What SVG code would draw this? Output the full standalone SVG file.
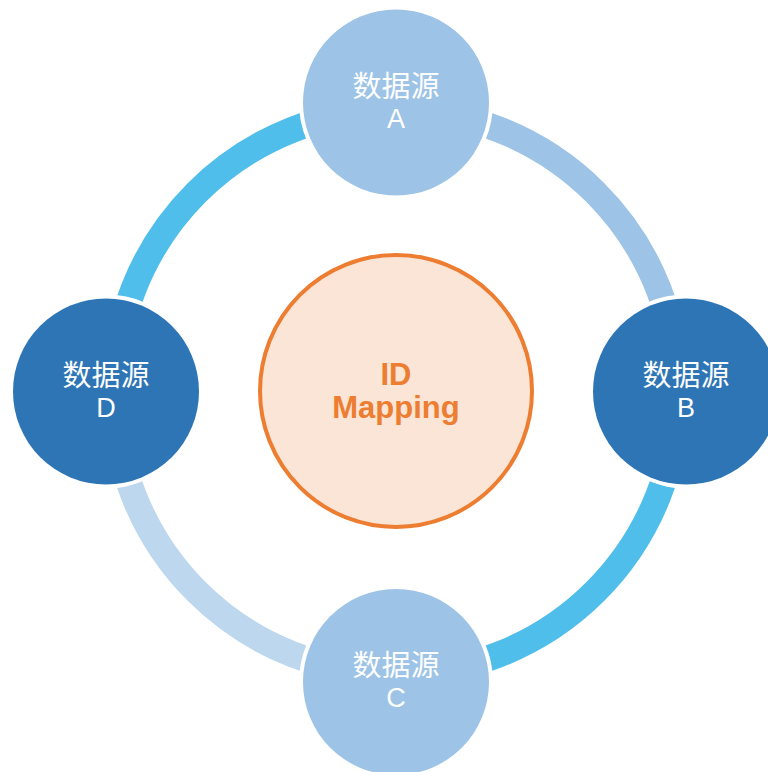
<svg xmlns="http://www.w3.org/2000/svg" width="768" height="772" viewBox="0 0 768 772">
<style>
.arc{fill:none;stroke-width:26}
.halo{fill:#FFFFFF}
.light{fill:#9DC3E6}
.dark{fill:#2E75B6}
.lbl{font-family:"Noto Sans CJK SC","Liberation Sans",sans-serif;font-size:29px;fill:#FFFFFF;text-anchor:middle}
.lat{font-family:"Liberation Sans",Arial,sans-serif;font-size:27px;fill:#FFFFFF;text-anchor:middle}
.core{font-family:"Liberation Sans",Arial,sans-serif;font-size:31px;font-weight:bold;fill:#ED7D31;text-anchor:middle}
</style>
<rect width="768" height="772" fill="#FFFFFF"/>
<g id="connectors">
<path class="arc" stroke="#9DC3E6" d="M396,110 A282,282 0 0 1 678,392"/>
<path class="arc" stroke="#4FBEEA" d="M678,392 A282,282 0 0 1 396,674"/>
<path class="arc" stroke="#BDD7EE" d="M396,674 A282,282 0 0 1 114,392"/>
<path class="arc" stroke="#4FBEEA" d="M114,392 A282,282 0 0 1 396,110"/>
</g>
<g id="center">
<circle cx="396" cy="391" r="136" fill="#FBE5D6" stroke="#ED7D31" stroke-width="4"/>
<text class="core" x="396" y="385">ID</text>
<text class="core" x="396" y="418">Mapping</text>
</g>
<g id="nodeA">
<circle class="halo" cx="396" cy="102.5" r="97"/>
<circle class="light" cx="396" cy="102.5" r="93"/>
<text class="lbl" x="396" y="97">数据源</text>
<text class="lat" x="396" y="128">A</text>
</g>
<g id="nodeB">
<circle class="halo" cx="686" cy="391.5" r="97"/>
<circle class="dark" cx="686" cy="391.5" r="93"/>
<text class="lbl" x="686" y="386">数据源</text>
<text class="lat" x="686" y="417">B</text>
</g>
<g id="nodeC">
<circle class="halo" cx="396" cy="682" r="97"/>
<circle class="light" cx="396" cy="682" r="93"/>
<text class="lbl" x="396" y="676">数据源</text>
<text class="lat" x="396" y="707">C</text>
</g>
<g id="nodeD">
<circle class="halo" cx="106" cy="391.5" r="97"/>
<circle class="dark" cx="106" cy="391.5" r="93"/>
<text class="lbl" x="106" y="386">数据源</text>
<text class="lat" x="106" y="417">D</text>
</g>
</svg>
